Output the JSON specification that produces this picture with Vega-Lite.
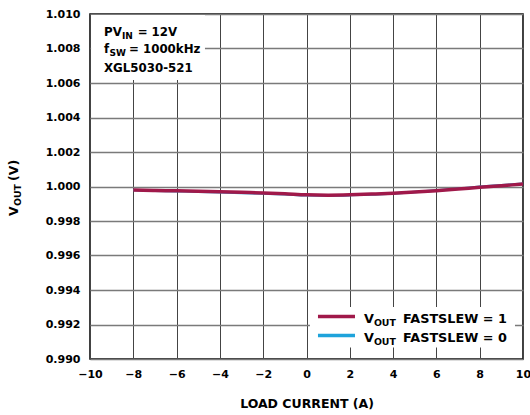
{
  "$schema": "https://vega.github.io/schema/vega-lite/v6.json",
  "width": 433,
  "height": 345,
  "autosize": {"type": "none"},
  "padding": {"left": 90, "top": 14, "right": 7, "bottom": 56},
  "background": "white",
  "config": {
    "view": {"stroke": "#000000", "strokeWidth": 1.5},
    "font": "DejaVu Sans",
    "text": {"font": "DejaVu Sans", "fontWeight": "bold", "color": "#000000", "align": "left", "baseline": "alphabetic"},
    "axis": {
      "labelFont": "DejaVu Sans", "labelFontWeight": "bold", "labelFontSize": 11, "labelColor": "#000000",
      "titleFont": "DejaVu Sans", "titleFontWeight": "bold", "titleFontSize": 12.5, "titleColor": "#000000",
      "domain": false, "ticks": false, "tickSize": 0, "grid": true, "labelOverlap": false
    },
    "axisX": {"tickCount": 12, "labelFlush": false, "labelPadding": 9, "titlePadding": 18, "gridColor": "#444444", "gridWidth": 1},
    "axisY": {"tickCount": 12, "labelFlush": false, "labelPadding": 10, "gridColor": "#7a7a7a", "gridWidth": 1.5}
  },
  "data": {
    "values": [
      {"current": -8, "vout": 0.99980, "fastslew": 1},
      {"current": -7, "vout": 0.99977, "fastslew": 1},
      {"current": -6, "vout": 0.99975, "fastslew": 1},
      {"current": -5, "vout": 0.99972, "fastslew": 1},
      {"current": -4, "vout": 0.99969, "fastslew": 1},
      {"current": -3, "vout": 0.99966, "fastslew": 1},
      {"current": -2, "vout": 0.99963, "fastslew": 1},
      {"current": -1, "vout": 0.99958, "fastslew": 1},
      {"current": 0, "vout": 0.99952, "fastslew": 1},
      {"current": 1, "vout": 0.99950, "fastslew": 1},
      {"current": 2, "vout": 0.99952, "fastslew": 1},
      {"current": 3, "vout": 0.99956, "fastslew": 1},
      {"current": 4, "vout": 0.99961, "fastslew": 1},
      {"current": 5, "vout": 0.99968, "fastslew": 1},
      {"current": 6, "vout": 0.99976, "fastslew": 1},
      {"current": 7, "vout": 0.99985, "fastslew": 1},
      {"current": 8, "vout": 0.99996, "fastslew": 1},
      {"current": 9, "vout": 1.00005, "fastslew": 1},
      {"current": 10, "vout": 1.00014, "fastslew": 1},
      {"current": -8, "vout": 0.99979, "fastslew": 0},
      {"current": -7, "vout": 0.99976, "fastslew": 0},
      {"current": -6, "vout": 0.99973, "fastslew": 0},
      {"current": -5, "vout": 0.99970, "fastslew": 0},
      {"current": -4, "vout": 0.99966, "fastslew": 0},
      {"current": -3, "vout": 0.99962, "fastslew": 0},
      {"current": -2, "vout": 0.99959, "fastslew": 0},
      {"current": -1, "vout": 0.99955, "fastslew": 0},
      {"current": 0, "vout": 0.99949, "fastslew": 0},
      {"current": 1, "vout": 0.99948, "fastslew": 0},
      {"current": 2, "vout": 0.99950, "fastslew": 0},
      {"current": 3, "vout": 0.99954, "fastslew": 0},
      {"current": 4, "vout": 0.99960, "fastslew": 0},
      {"current": 5, "vout": 0.99968, "fastslew": 0},
      {"current": 6, "vout": 0.99977, "fastslew": 0},
      {"current": 7, "vout": 0.99987, "fastslew": 0},
      {"current": 8, "vout": 0.99998, "fastslew": 0},
      {"current": 9, "vout": 1.00007, "fastslew": 0},
      {"current": 10, "vout": 1.00016, "fastslew": 0}
    ]
  },
  "layer": [
    {
      "transform": [{"filter": "datum.fastslew == 0"}],
      "mark": {"type": "line", "stroke": "#1ea3db", "strokeWidth": 2.5, "interpolate": "monotone"},
      "encoding": {
        "x": {
          "field": "current", "type": "quantitative",
          "scale": {"domain": [-10, 10], "nice": false, "zero": false},
          "axis": {"values": [-10, -8, -6, -4, -2, 0, 2, 4, 6, 8, 10], "title": "LOAD CURRENT (A)"}
        },
        "y": {
          "field": "vout", "type": "quantitative",
          "scale": {"domain": [0.99, 1.01], "nice": false, "zero": false},
          "axis": {"values": [0.99, 0.992, 0.994, 0.996, 0.998, 1.0, 1.002, 1.004, 1.006, 1.008, 1.01], "format": ".3f", "title": null}
        }
      }
    },
    {
      "transform": [{"filter": "datum.fastslew == 1"}],
      "mark": {"type": "line", "stroke": "#a0194a", "strokeWidth": 3.5, "interpolate": "monotone"},
      "encoding": {
        "x": {"field": "current", "type": "quantitative", "scale": {"domain": [-10, 10], "nice": false, "zero": false}},
        "y": {"field": "vout", "type": "quantitative", "scale": {"domain": [0.99, 1.01], "nice": false, "zero": false}}
      }
    },
    {
      "data": {"values": [{}]},
      "mark": {"type": "rect", "fill": "white"},
      "encoding": {
        "x": {"datum": -9.95, "type": "quantitative", "scale": {"domain": [-10, 10], "nice": false, "zero": false}},
        "x2": {"datum": -4.69},
        "y": {"datum": 1.00994, "type": "quantitative", "scale": {"domain": [0.99, 1.01], "nice": false, "zero": false}},
        "y2": {"datum": 1.00617}
      }
    },
    {
      "data": {"values": [{}]},
      "mark": {"type": "rect", "fill": "white"},
      "encoding": {
        "x": {"datum": 0.16, "type": "quantitative", "scale": {"domain": [-10, 10], "nice": false, "zero": false}},
        "x2": {"datum": 9.63},
        "y": {"datum": 0.99301, "type": "quantitative", "scale": {"domain": [0.99, 1.01], "nice": false, "zero": false}},
        "y2": {"datum": 0.99067}
      }
    },
    {
      "data": {"values": [{}]},
      "mark": {"type": "rule", "stroke": "#a0194a", "strokeWidth": 3.5, "strokeCap": "butt"},
      "encoding": {
        "x": {"datum": 0.53, "type": "quantitative", "scale": {"domain": [-10, 10], "nice": false, "zero": false}},
        "x2": {"datum": 2.24},
        "y": {"datum": 0.992464, "type": "quantitative", "scale": {"domain": [0.99, 1.01], "nice": false, "zero": false}}
      }
    },
    {
      "data": {"values": [{}]},
      "mark": {"type": "rule", "stroke": "#1ea3db", "strokeWidth": 3.5, "strokeCap": "butt"},
      "encoding": {
        "x": {"datum": 0.53, "type": "quantitative", "scale": {"domain": [-10, 10], "nice": false, "zero": false}},
        "x2": {"datum": 2.24},
        "y": {"datum": 0.991363, "type": "quantitative", "scale": {"domain": [0.99, 1.01], "nice": false, "zero": false}}
      }
    },
    {
      "data": {"values": [{}]},
      "mark": {"type": "text", "text": "PV", "fontSize": 11.8},
      "encoding": {
        "x": {"datum": -9.353, "type": "quantitative", "scale": {"domain": [-10, 10], "nice": false, "zero": false}},
        "y": {"datum": 1.008725, "type": "quantitative", "scale": {"domain": [0.99, 1.01], "nice": false, "zero": false}}
      }
    },
    {
      "data": {"values": [{}]},
      "mark": {"type": "text", "text": "IN", "fontSize": 9},
      "encoding": {
        "x": {"datum": -8.522, "type": "quantitative", "scale": {"domain": [-10, 10], "nice": false, "zero": false}},
        "y": {"datum": 1.008551, "type": "quantitative", "scale": {"domain": [0.99, 1.01], "nice": false, "zero": false}}
      }
    },
    {
      "data": {"values": [{}]},
      "mark": {"type": "text", "text": "= 12V", "fontSize": 11.8},
      "encoding": {
        "x": {"datum": -7.8, "type": "quantitative", "scale": {"domain": [-10, 10], "nice": false, "zero": false}},
        "y": {"datum": 1.008725, "type": "quantitative", "scale": {"domain": [0.99, 1.01], "nice": false, "zero": false}}
      }
    },
    {
      "data": {"values": [{}]},
      "mark": {"type": "text", "text": "f", "fontSize": 11.8},
      "encoding": {
        "x": {"datum": -9.353, "type": "quantitative", "scale": {"domain": [-10, 10], "nice": false, "zero": false}},
        "y": {"datum": 1.007739, "type": "quantitative", "scale": {"domain": [0.99, 1.01], "nice": false, "zero": false}}
      }
    },
    {
      "data": {"values": [{}]},
      "mark": {"type": "text", "text": "SW", "fontSize": 9},
      "encoding": {
        "x": {"datum": -9.099, "type": "quantitative", "scale": {"domain": [-10, 10], "nice": false, "zero": false}},
        "y": {"datum": 1.007565, "type": "quantitative", "scale": {"domain": [0.99, 1.01], "nice": false, "zero": false}}
      }
    },
    {
      "data": {"values": [{}]},
      "mark": {"type": "text", "text": "= 1000kHz", "fontSize": 11.8},
      "encoding": {
        "x": {"datum": -8.199, "type": "quantitative", "scale": {"domain": [-10, 10], "nice": false, "zero": false}},
        "y": {"datum": 1.007739, "type": "quantitative", "scale": {"domain": [0.99, 1.01], "nice": false, "zero": false}}
      }
    },
    {
      "data": {"values": [{}]},
      "mark": {"type": "text", "text": "XGL5030-521", "fontSize": 11.8},
      "encoding": {
        "x": {"datum": -9.353, "type": "quantitative", "scale": {"domain": [-10, 10], "nice": false, "zero": false}},
        "y": {"datum": 1.006638, "type": "quantitative", "scale": {"domain": [0.99, 1.01], "nice": false, "zero": false}}
      }
    },
    {
      "data": {"values": [{}]},
      "mark": {"type": "text", "text": "V", "fontSize": 12.8},
      "encoding": {
        "x": {"datum": 2.656, "type": "quantitative", "scale": {"domain": [-10, 10], "nice": false, "zero": false}},
        "y": {"datum": 0.992087, "type": "quantitative", "scale": {"domain": [0.99, 1.01], "nice": false, "zero": false}}
      }
    },
    {
      "data": {"values": [{}]},
      "mark": {"type": "text", "text": "OUT", "fontSize": 9.4},
      "encoding": {
        "x": {"datum": 3.113, "type": "quantitative", "scale": {"domain": [-10, 10], "nice": false, "zero": false}},
        "y": {"datum": 0.991913, "type": "quantitative", "scale": {"domain": [0.99, 1.01], "nice": false, "zero": false}}
      }
    },
    {
      "data": {"values": [{}]},
      "mark": {"type": "text", "text": "FASTSLEW = 1", "fontSize": 12.8},
      "encoding": {
        "x": {"datum": 4.457, "type": "quantitative", "scale": {"domain": [-10, 10], "nice": false, "zero": false}},
        "y": {"datum": 0.992087, "type": "quantitative", "scale": {"domain": [0.99, 1.01], "nice": false, "zero": false}}
      }
    },
    {
      "data": {"values": [{}]},
      "mark": {"type": "text", "text": "V", "fontSize": 12.8},
      "encoding": {
        "x": {"datum": 2.656, "type": "quantitative", "scale": {"domain": [-10, 10], "nice": false, "zero": false}},
        "y": {"datum": 0.990986, "type": "quantitative", "scale": {"domain": [0.99, 1.01], "nice": false, "zero": false}}
      }
    },
    {
      "data": {"values": [{}]},
      "mark": {"type": "text", "text": "OUT", "fontSize": 9.4},
      "encoding": {
        "x": {"datum": 3.113, "type": "quantitative", "scale": {"domain": [-10, 10], "nice": false, "zero": false}},
        "y": {"datum": 0.990812, "type": "quantitative", "scale": {"domain": [0.99, 1.01], "nice": false, "zero": false}}
      }
    },
    {
      "data": {"values": [{}]},
      "mark": {"type": "text", "text": "FASTSLEW = 0", "fontSize": 12.8},
      "encoding": {
        "x": {"datum": 4.457, "type": "quantitative", "scale": {"domain": [-10, 10], "nice": false, "zero": false}},
        "y": {"datum": 0.990986, "type": "quantitative", "scale": {"domain": [0.99, 1.01], "nice": false, "zero": false}}
      }
    },
    {
      "data": {"values": [{}]},
      "mark": {"type": "text", "text": "V", "fontSize": 12.5, "angle": 270},
      "encoding": {
        "x": {"datum": -13.326, "type": "quantitative", "scale": {"domain": [-10, 10], "nice": false, "zero": false}},
        "y": {"datum": 0.99829, "type": "quantitative", "scale": {"domain": [0.99, 1.01], "nice": false, "zero": false}}
      }
    },
    {
      "data": {"values": [{}]},
      "mark": {"type": "text", "text": "OUT", "fontSize": 9.3, "angle": 270},
      "encoding": {
        "x": {"datum": -13.187, "type": "quantitative", "scale": {"domain": [-10, 10], "nice": false, "zero": false}},
        "y": {"datum": 0.99887, "type": "quantitative", "scale": {"domain": [0.99, 1.01], "nice": false, "zero": false}}
      }
    },
    {
      "data": {"values": [{}]},
      "mark": {"type": "text", "text": "(V)", "fontSize": 12.5, "angle": 270},
      "encoding": {
        "x": {"datum": -13.326, "type": "quantitative", "scale": {"domain": [-10, 10], "nice": false, "zero": false}},
        "y": {"datum": 1.000319, "type": "quantitative", "scale": {"domain": [0.99, 1.01], "nice": false, "zero": false}}
      }
    }
  ]
}
